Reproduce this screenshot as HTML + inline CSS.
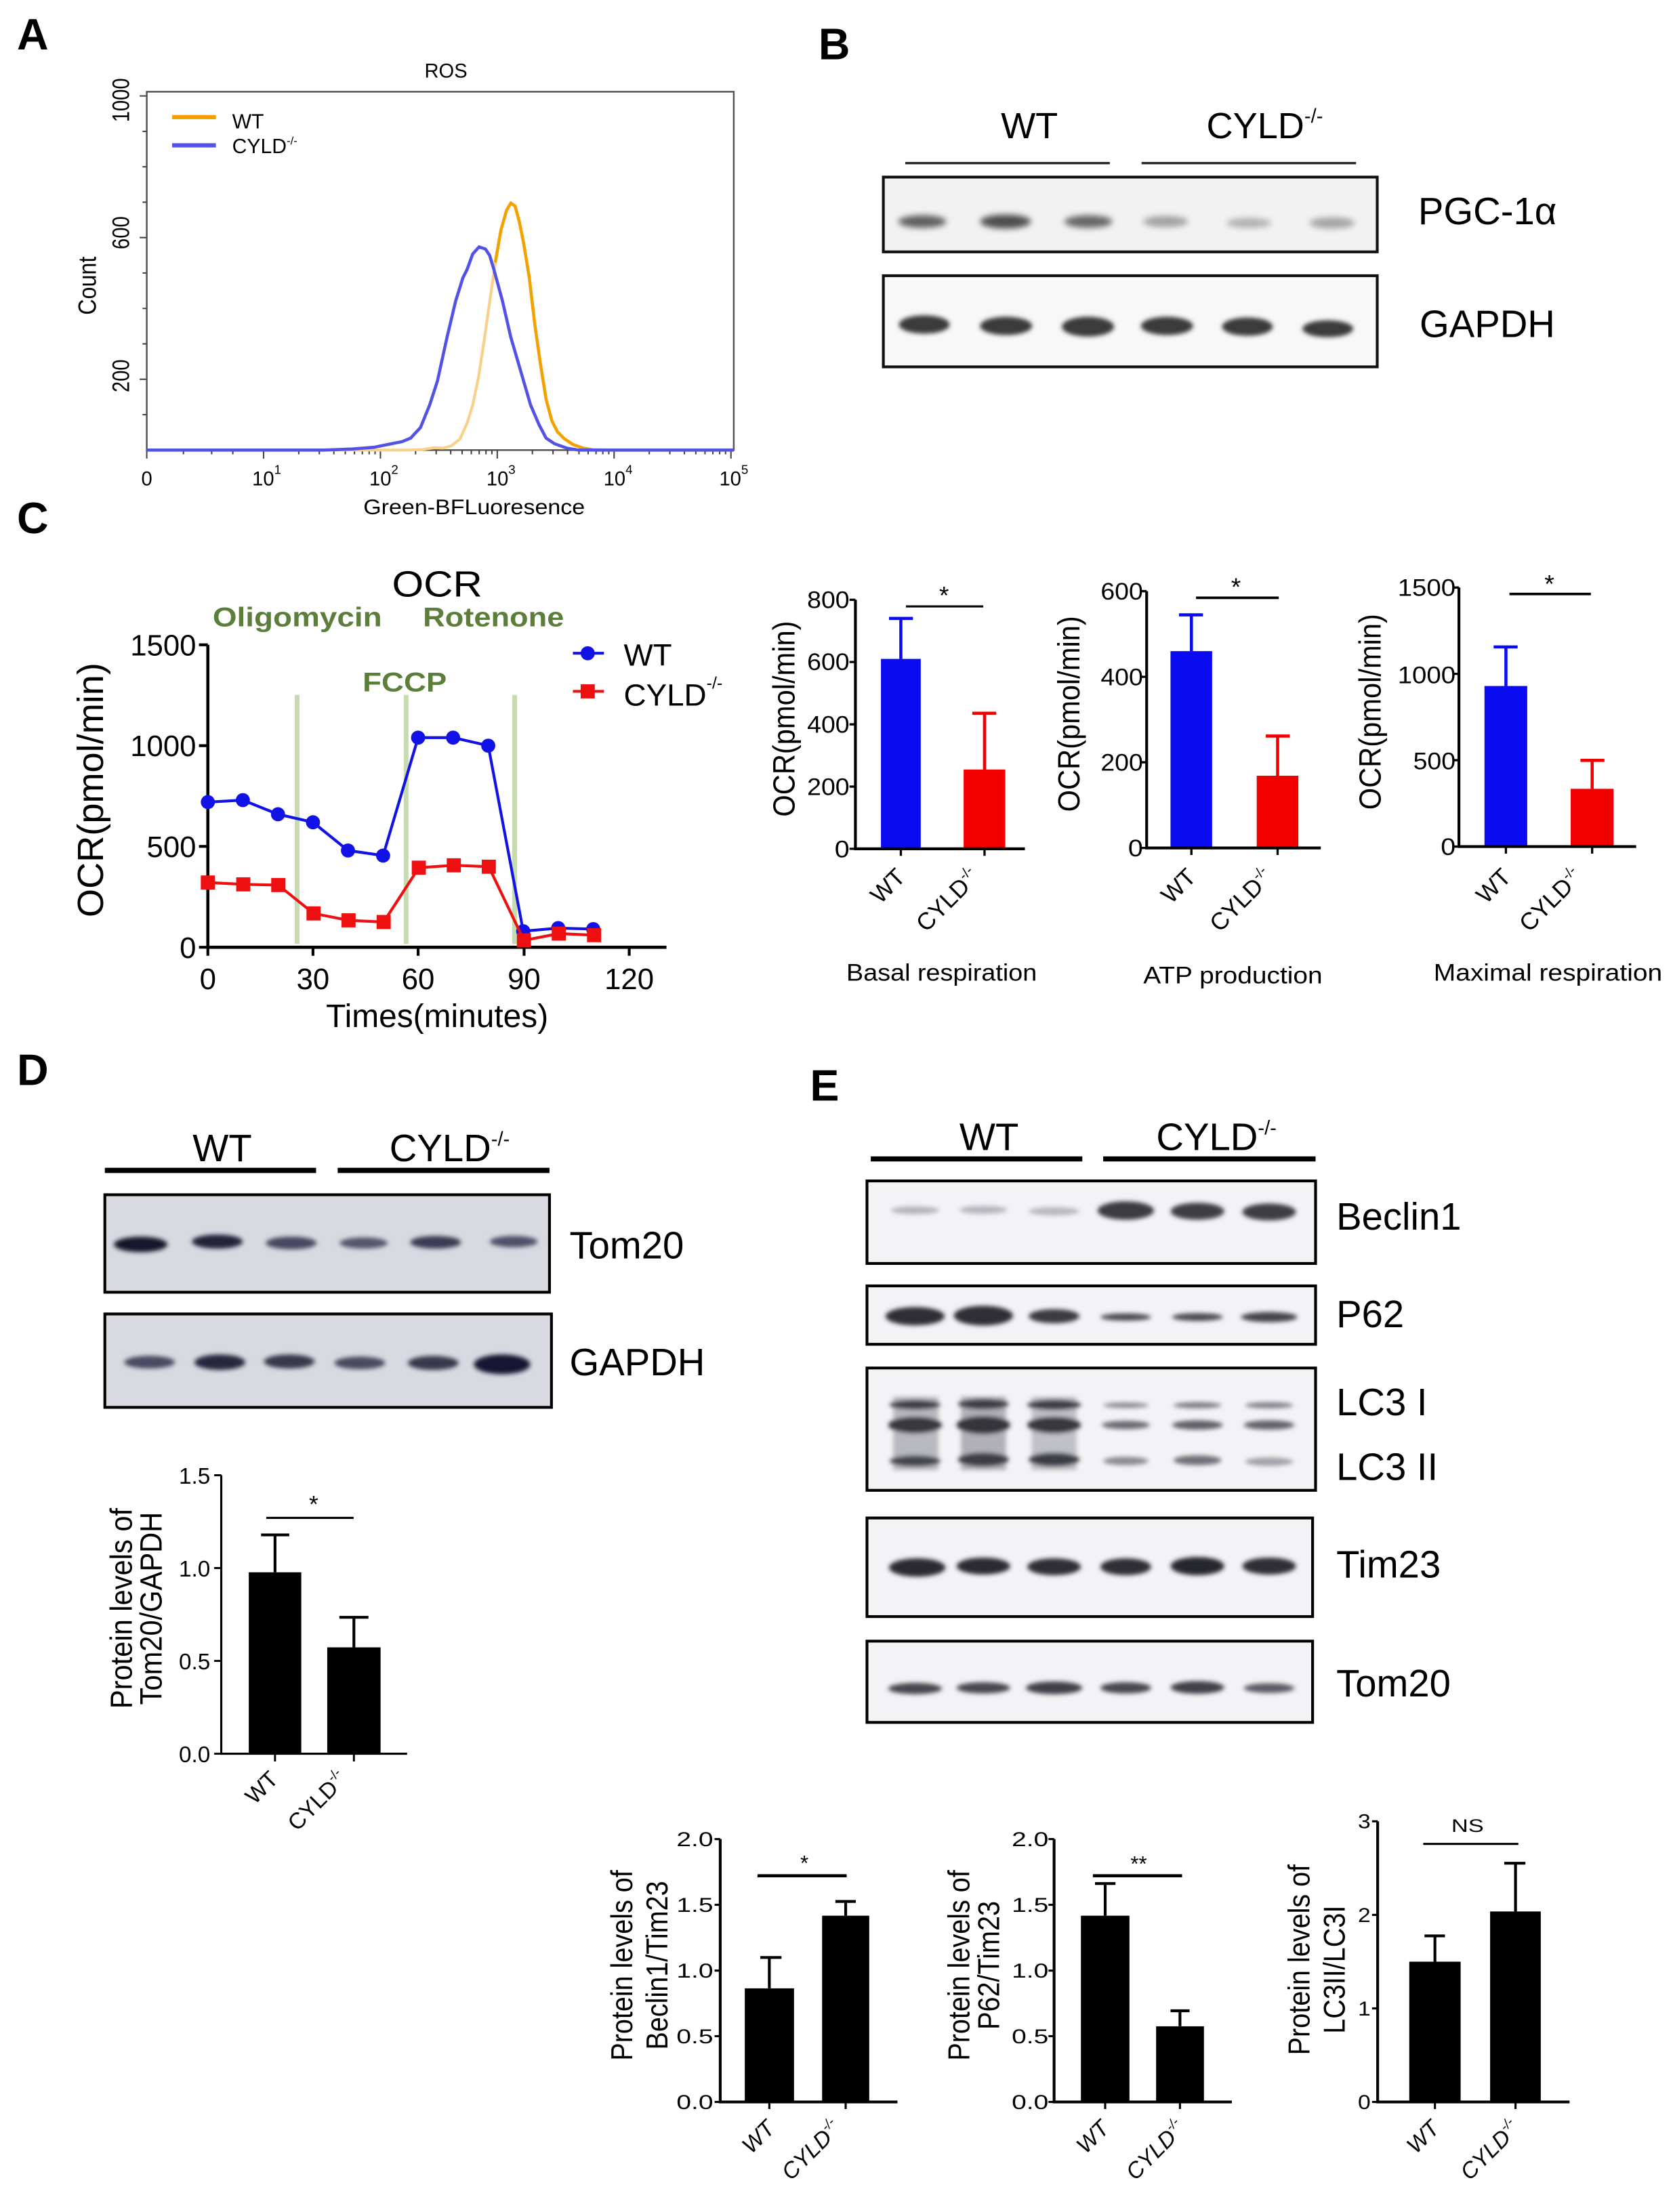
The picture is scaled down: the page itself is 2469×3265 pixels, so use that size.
<!DOCTYPE html>
<html><head><meta charset="utf-8">
<style>
html,body{margin:0;padding:0;background:#fff;}
svg{display:block;}
text{font-family:"Liberation Sans",Arial,sans-serif;}
</style></head><body>
<svg width="2469" height="3265" viewBox="0 0 1185.6 1567.8" xmlns="http://www.w3.org/2000/svg">
<defs>
<filter id="bl" x="-40%" y="-150%" width="180%" height="400%"><feGaussianBlur stdDeviation="2.2"/></filter>
<filter id="bl2" x="-40%" y="-150%" width="180%" height="400%"><feGaussianBlur stdDeviation="1.5"/></filter>
</defs>
<rect width="1185.6" height="1567.8" fill="#fff"/>

<!-- Panel letters -->
<g font-weight="bold" font-size="31">
<text x="12" y="35">A</text>
<text x="580" y="42">B</text>
<text x="12" y="378">C</text>
<text x="12" y="769">D</text>
<text x="574" y="780">E</text>
</g>

<!-- ================= Panel A ================= -->
<text x="316" y="55" font-size="14" text-anchor="middle">ROS</text>
<rect x="104" y="65" width="416" height="254" fill="none" stroke="#555" stroke-width="1.2"/>
<path d="M104 293.9h-3M104 268.8h-5M104 243.7h-3M104 218.6h-3M104 193.5h-3M104 168.4h-5M104 143.3h-3M104 118.2h-3M104 93.1h-3M104 68h-5" stroke="#444" stroke-width="1"/>
<g font-size="14" text-anchor="middle">
<text transform="translate(91.5,71) scale(1.2,1) rotate(-90)">1000</text>
<text transform="translate(91.5,165) scale(1.2,1) rotate(-90)">600</text>
<text transform="translate(91.5,266.4) scale(1.2,1) rotate(-90)">200</text>
<text transform="translate(68,202.5) scale(1.15,1) rotate(-90)" font-size="15.5">Count</text>
</g>
<path d="M104 319v6M186.8 319v6M269.6 319v6M352.4 319v6M435.2 319v6M518 319v6
M211.7 319v3M226.3 319v3M236.6 319v3M244.7 319v3M251.2 319v3M256.8 319v3M261.6 319v3M265.8 319v3
M294.5 319v3M309.1 319v3M319.4 319v3M327.5 319v3M334 319v3M339.6 319v3M344.4 319v3M348.6 319v3
M377.3 319v3M391.9 319v3M402.2 319v3M410.3 319v3M416.8 319v3M422.4 319v3M427.2 319v3M431.4 319v3
M460.1 319v3M474.7 319v3M485 319v3M493.1 319v3M499.6 319v3M505.2 319v3M510 319v3M514.2 319v3
M130 319v3M150 319v3M165 319v3" stroke="#444" stroke-width="1"/>
<g font-size="14" text-anchor="middle">
<text x="104" y="344">0</text>
<text x="189" y="344">10<tspan font-size="9" dy="-8">1</tspan></text>
<text x="272" y="344">10<tspan font-size="9" dy="-8">2</tspan></text>
<text x="355" y="344">10<tspan font-size="9" dy="-8">3</tspan></text>
<text x="438" y="344">10<tspan font-size="9" dy="-8">4</tspan></text>
<text x="520" y="344">10<tspan font-size="9" dy="-8">5</tspan></text>
</g>
<text x="336" y="364.5" font-size="15" text-anchor="middle" textLength="157" lengthAdjust="spacingAndGlyphs">Green-BFLuoresence</text>
<!-- legend -->
<line x1="122" y1="83" x2="153" y2="83" stroke="#f4a100" stroke-width="3"/>
<line x1="122" y1="103" x2="153" y2="103" stroke="#5252e6" stroke-width="3"/>
<text x="164.5" y="91" font-size="14.5">WT</text>
<text x="164.5" y="108.5" font-size="14.5">CYLD<tspan font-size="8" dy="-6">-/-</tspan></text>
<!-- curves -->
<polyline points="104,319 290,319 300,318.5 308,317.3 314,317.6 320,316 326,311 331,300 335,287 339,268 343,242 347,214 351,186" fill="none" stroke="#f8d08a" stroke-width="2"/>
<polyline points="351,186 355,163 359,149 362,144 365,146 368,157 371,172 375,196 379,230 383,258 387,283 391,298 395,306 400,311 406,315 413,317.5 420,318.8 430,319 520,319" fill="none" stroke="#f4a100" stroke-width="2.2"/>
<polyline points="104,319 230,319 250,318.2 265,317 275,315 285,313 291,310.5 298,303 304.5,287 310,270 316.8,239 323,213 328,197 331,191 335,180 339.5,175 344,176.5 347,181 350,191 356,213 362,239 369,263 376,287 382,301 387,310.5 393,314.5 402,317.7 410,319 520,319" fill="none" stroke="#5252e6" stroke-width="2.2"/>

<!-- ================= Panel B ================= -->
<text x="729.5" y="98" font-size="26" text-anchor="middle">WT</text>
<text x="855" y="98" font-size="26">CYLD<tspan font-size="14" dy="-11">-/-</tspan></text>
<rect x="641.5" y="114.8" width="145" height="1.6" fill="#222"/>
<rect x="809" y="114.8" width="152" height="1.6" fill="#222"/>
<rect x="626" y="125.5" width="350" height="53" fill="#f2f2f2" stroke="#111" stroke-width="2"/>
<rect x="626" y="195.4" width="350" height="64.6" fill="#f8f8f8" stroke="#111" stroke-width="2"/>
<g filter="url(#bl)">
<ellipse cx="653.6" cy="157" rx="17" ry="4.5" fill="#5e5e5e"/>
<ellipse cx="712.6" cy="157" rx="18" ry="5" fill="#4e4e4e"/>
<ellipse cx="771.3" cy="157" rx="17" ry="4.5" fill="#666"/>
<ellipse cx="826" cy="157" rx="16" ry="4" fill="#a2a2a2"/>
<ellipse cx="885" cy="158" rx="16" ry="3.5" fill="#b0b0b0"/>
<ellipse cx="944" cy="158" rx="16" ry="4" fill="#a4a4a4"/>
</g>
<g filter="url(#bl2)" fill="#3a3a3a">
<ellipse cx="655" cy="230" rx="18" ry="6.5"/>
<ellipse cx="713" cy="231" rx="18.5" ry="6.5"/>
<ellipse cx="771" cy="231.5" rx="18.5" ry="7"/>
<ellipse cx="827" cy="231" rx="18.5" ry="6.5"/>
<ellipse cx="884" cy="231.5" rx="18" ry="6.5"/>
<ellipse cx="941" cy="233" rx="18" ry="6"/>
</g>
<text x="1005" y="159" font-size="27">PGC-1α</text>
<text x="1006" y="239" font-size="27">GAPDH</text>

<!-- ================= Panel C line chart ================= -->
<text x="309.8" y="422.7" font-size="26" text-anchor="middle" textLength="64" lengthAdjust="spacingAndGlyphs">OCR</text>
<g font-weight="bold" font-size="19" style="fill:#5b7f3a">
<text x="150.7" y="444" style="fill:#5b7f3a" textLength="120" lengthAdjust="spacingAndGlyphs">Oligomycin</text>
<text x="299.7" y="444" style="fill:#5b7f3a" textLength="100" lengthAdjust="spacingAndGlyphs">Rotenone</text>
<text x="257" y="490" style="fill:#5b7f3a" textLength="59.6" lengthAdjust="spacingAndGlyphs">FCCP</text>
</g>
<g fill="#c6dbb2">
<rect x="208.9" y="492.5" width="3.4" height="176.5"/>
<rect x="286.1" y="492.5" width="3.4" height="176.5"/>
<rect x="363" y="492.5" width="3.4" height="176.5"/>
</g>
<path d="M147.3 457V671.4H472.3" stroke="#000" stroke-width="2.2" fill="none"/>
<path d="M141 457h6.3M141 528.5h6.3M141 599.9h6.3M141 671.4h6.3M147.3 671.4v6M221.8 671.4v6M296.3 671.4v6M371.4 671.4v6M445.9 671.4v6" stroke="#000" stroke-width="2"/>
<g font-size="21" text-anchor="end">
<text x="139" y="464.5">1500</text>
<text x="139" y="536">1000</text>
<text x="139" y="607.5">500</text>
<text x="139" y="679">0</text>
</g>
<g font-size="21" text-anchor="middle">
<text x="147.3" y="701">0</text>
<text x="221.8" y="701">30</text>
<text x="296.3" y="701">60</text>
<text x="371.4" y="701">90</text>
<text x="445.9" y="701">120</text>
</g>
<text x="309.8" y="728" font-size="23" text-anchor="middle">Times(minutes)</text>
<text transform="translate(73,559.9) rotate(-90)" font-size="26" text-anchor="middle">OCR(pmol/min)</text>
<!-- series -->
<polyline points="147.3,568.5 172.1,567.1 197,577.1 221.8,582.8 246.6,602.8 271.5,606.4 296.3,522.8 321.1,522.8 346,528.5 370.8,660 395.6,657.8 420.4,658.5" fill="none" stroke="#1212e6" stroke-width="2"/>
<g fill="#1212e6">
<circle cx="147.3" cy="568.5" r="5"/><circle cx="172.1" cy="567.1" r="5"/><circle cx="197" cy="577.1" r="5"/><circle cx="221.8" cy="582.8" r="5"/><circle cx="246.6" cy="602.8" r="5"/><circle cx="271.5" cy="606.4" r="5"/><circle cx="296.3" cy="522.8" r="5"/><circle cx="321.1" cy="522.8" r="5"/><circle cx="346" cy="528.5" r="5"/><circle cx="370.8" cy="660" r="5"/><circle cx="395.6" cy="657.8" r="5"/><circle cx="420.4" cy="658.5" r="5"/>
</g>
<polyline points="147.3,625.5 172.4,626.8 197.2,627.3 222.2,647.4 247,652.3 271.9,653.5 296.8,615 321.6,613.3 346.4,614.3 371.3,666.5 396,661.7 421,662.8" fill="none" stroke="#ee1010" stroke-width="2"/>
<g fill="#ee1010">
<rect x="142.3" y="620.5" width="10" height="10"/><rect x="167.4" y="621.8" width="10" height="10"/><rect x="192.2" y="622.3" width="10" height="10"/><rect x="217.2" y="642.4" width="10" height="10"/><rect x="242" y="647.3" width="10" height="10"/><rect x="266.9" y="648.5" width="10" height="10"/><rect x="291.8" y="610" width="10" height="10"/><rect x="316.6" y="608.3" width="10" height="10"/><rect x="341.4" y="609.3" width="10" height="10"/><rect x="366.3" y="661.5" width="10" height="10"/><rect x="391" y="656.7" width="10" height="10"/><rect x="416" y="657.8" width="10" height="10"/>
</g>
<!-- legend -->
<line x1="406" y1="463" x2="428" y2="463" stroke="#1212e6" stroke-width="2"/>
<circle cx="416.5" cy="463" r="5" fill="#1212e6"/>
<line x1="406" y1="490" x2="428" y2="490" stroke="#ee1010" stroke-width="2"/>
<rect x="411.5" y="485" width="10" height="10" fill="#ee1010"/>
<text x="442" y="471.7" font-size="22">WT</text>
<text x="442" y="500" font-size="22">CYLD<tspan font-size="12" dy="-12">-/-</tspan></text>

<!-- ================= Panel C bar charts ================= -->
<!-- chart 1 -->
<rect x="624.3" y="467" width="28.2" height="134.6" fill="#0b0bf2"/>
<rect x="682.9" y="545.4" width="29.5" height="56.2" fill="#f20000"/>
<path d="M638.4 467V438.3M630 438.3h17" stroke="#0b0bf2" stroke-width="2.2"/>
<path d="M697.7 545.4V505.5M689 505.5h17" stroke="#f20000" stroke-width="2.2"/>
<path d="M606.2 425.1V601.6H726.3" stroke="#000" stroke-width="2" fill="none"/>
<path d="M602 425.1h4.2M602 469.2h4.2M602 513.4h4.2M602 557.5h4.2M602 601.6h4.2M638.4 601.6v5M697.7 601.6v5" stroke="#000" stroke-width="1.6"/>
<line x1="642" y1="429.8" x2="696.8" y2="429.8" stroke="#000" stroke-width="1.5"/>
<text x="669" y="428" font-size="18" text-anchor="middle">*</text>
<g font-size="17" text-anchor="end">
<text x="602" y="431" textLength="30" lengthAdjust="spacingAndGlyphs">800</text>
<text x="602" y="475" textLength="30" lengthAdjust="spacingAndGlyphs">600</text>
<text x="602" y="519.4" textLength="30" lengthAdjust="spacingAndGlyphs">400</text>
<text x="602" y="563.5" textLength="30" lengthAdjust="spacingAndGlyphs">200</text>
<text x="602" y="607.6" textLength="10.5" lengthAdjust="spacingAndGlyphs">0</text>
</g>
<text transform="translate(563,509.5) scale(1.1,1) rotate(-90)" font-size="20" text-anchor="middle">OCR(pmol/min)</text>
<g font-size="17" text-anchor="end">
<text transform="translate(642.5,622.6) rotate(-45)">WT</text>
<text transform="translate(695,622.6) rotate(-45)">CYLD<tspan font-size="10" dy="-7">-/-</tspan></text>
</g>
<text x="667.3" y="695" font-size="17" text-anchor="middle" textLength="135" lengthAdjust="spacingAndGlyphs">Basal respiration</text>

<!-- chart 2 -->
<rect x="829.5" y="461.5" width="29.5" height="139.5" fill="#0b0bf2"/>
<rect x="890.6" y="549.8" width="29.5" height="51.2" fill="#f20000"/>
<path d="M844.3 461.5V435.8M835.5 435.8h17" stroke="#0b0bf2" stroke-width="2.2"/>
<path d="M905.4 549.8V521.7M897 521.7h17" stroke="#f20000" stroke-width="2.2"/>
<path d="M812.6 419V601H936" stroke="#000" stroke-width="2" fill="none"/>
<path d="M808.4 419h4.2M808.4 479.7h4.2M808.4 540.3h4.2M808.4 601h4.2M844.3 601v5M905.4 601v5" stroke="#000" stroke-width="1.6"/>
<line x1="847.6" y1="423.7" x2="906.2" y2="423.7" stroke="#000" stroke-width="1.8"/>
<text x="875.9" y="422" font-size="18" text-anchor="middle">*</text>
<g font-size="17" text-anchor="end">
<text x="810" y="425" textLength="30" lengthAdjust="spacingAndGlyphs">600</text>
<text x="810" y="485.7" textLength="30" lengthAdjust="spacingAndGlyphs">400</text>
<text x="810" y="546.3" textLength="30" lengthAdjust="spacingAndGlyphs">200</text>
<text x="810" y="607" textLength="10.5" lengthAdjust="spacingAndGlyphs">0</text>
</g>
<text transform="translate(765,506) scale(1.1,1) rotate(-90)" font-size="20" text-anchor="middle">OCR(pmol/min)</text>
<g font-size="17" text-anchor="end">
<text transform="translate(848.5,622.6) rotate(-45)">WT</text>
<text transform="translate(903,622.6) rotate(-45)">CYLD<tspan font-size="10" dy="-7">-/-</tspan></text>
</g>
<text x="873.7" y="697" font-size="17" text-anchor="middle" textLength="127" lengthAdjust="spacingAndGlyphs">ATP production</text>

<!-- chart 3 -->
<rect x="1052" y="486.2" width="30.3" height="113.8" fill="#0b0bf2"/>
<rect x="1113.1" y="559.1" width="30.4" height="40.9" fill="#f20000"/>
<path d="M1067.2 486.2V458.5M1058.5 458.5h17" stroke="#0b0bf2" stroke-width="2.2"/>
<path d="M1128.3 559.1V538.9M1120 538.9h17" stroke="#f20000" stroke-width="2.2"/>
<path d="M1033.9 416.4V600H1159.5" stroke="#000" stroke-width="2" fill="none"/>
<path d="M1029.7 416.4h4.2M1029.7 477.6h4.2M1029.7 538.8h4.2M1029.7 600h4.2M1067.2 600v5M1128.3 600v5" stroke="#000" stroke-width="1.6"/>
<line x1="1069.7" y1="421" x2="1127.4" y2="421" stroke="#000" stroke-width="1.8"/>
<text x="1098" y="420" font-size="18" text-anchor="middle">*</text>
<g font-size="17" text-anchor="end">
<text x="1031.5" y="422.4" textLength="41" lengthAdjust="spacingAndGlyphs">1500</text>
<text x="1031.5" y="484.3" textLength="41" lengthAdjust="spacingAndGlyphs">1000</text>
<text x="1031.5" y="545.3" textLength="30" lengthAdjust="spacingAndGlyphs">500</text>
<text x="1031.5" y="606" textLength="10.5" lengthAdjust="spacingAndGlyphs">0</text>
</g>
<text transform="translate(978.5,504.5) scale(1.1,1) rotate(-90)" font-size="20" text-anchor="middle">OCR(pmol/min)</text>
<g font-size="17" text-anchor="end">
<text transform="translate(1071.8,622.6) rotate(-45)">WT</text>
<text transform="translate(1122.4,622.6) rotate(-45)">CYLD<tspan font-size="10" dy="-7">-/-</tspan></text>
</g>
<text x="1097" y="695" font-size="17" text-anchor="middle" textLength="162" lengthAdjust="spacingAndGlyphs">Maximal respiration</text>

<!-- ================= Panel D ================= -->
<text x="157.5" y="823" font-size="27" text-anchor="middle">WT</text>
<text x="276" y="823" font-size="27">CYLD<tspan font-size="14" dy="-11">-/-</tspan></text>
<rect x="74.3" y="827.7" width="149.7" height="3.7" fill="#000"/>
<rect x="239.3" y="827.7" width="150.1" height="3.7" fill="#000"/>
<rect x="74.3" y="846.8" width="315.1" height="69.1" fill="#d9d9e1" stroke="#000" stroke-width="2"/>
<rect x="74.3" y="931.3" width="316.5" height="66.2" fill="#d9d9e1" stroke="#000" stroke-width="2"/>
<g filter="url(#bl2)">
<ellipse cx="99.7" cy="882" rx="19" ry="5.5" fill="#15152a"/>
<ellipse cx="154" cy="880" rx="18" ry="5" fill="#22223a"/>
<ellipse cx="206.4" cy="881" rx="18" ry="4.5" fill="#474760"/>
<ellipse cx="257.7" cy="881" rx="17" ry="4" fill="#55556c"/>
<ellipse cx="308.7" cy="880.5" rx="18" ry="4.5" fill="#3a3a52"/>
<ellipse cx="364" cy="880" rx="17" ry="4" fill="#50506a"/>
<ellipse cx="106" cy="965.5" rx="18" ry="4.5" fill="#4a4a60"/>
<ellipse cx="155.8" cy="965.5" rx="18" ry="5.5" fill="#28283e"/>
<ellipse cx="205" cy="965" rx="18" ry="5" fill="#38384e"/>
<ellipse cx="255" cy="966" rx="18" ry="4.5" fill="#4a4a60"/>
<ellipse cx="307" cy="966" rx="18" ry="5" fill="#38384e"/>
<ellipse cx="355.8" cy="967" rx="20" ry="7" fill="#181830"/>
</g>
<text x="403.6" y="892" font-size="27">Tom20</text>
<text x="403.6" y="974.7" font-size="27">GAPDH</text>
<!-- D bar chart -->
<rect x="176.3" y="1114.4" width="37.2" height="128.6" fill="#000"/>
<rect x="231.9" y="1167.6" width="37.8" height="75.4" fill="#000"/>
<path d="M194.9 1114.4V1087.9M185 1087.9h20M250.8 1167.6V1146.3M240.5 1146.3h20.6" stroke="#000" stroke-width="2"/>
<path d="M156.8 1045.6V1243H288.5" stroke="#000" stroke-width="1.5" fill="none"/>
<path d="M151.8 1045.6h5M151.8 1111.4h5M151.8 1177.2h5M151.8 1243h5M194.9 1243v5.5M250.8 1243v5.5" stroke="#000" stroke-width="1.4"/>
<line x1="188.7" y1="1075.8" x2="250.6" y2="1075.8" stroke="#000" stroke-width="1.5"/>
<text x="222.3" y="1072" font-size="17" text-anchor="middle">*</text>
<g font-size="16" text-anchor="end">
<text x="149" y="1051.6">1.5</text>
<text x="149" y="1117.4">1.0</text>
<text x="149" y="1183.2">0.5</text>
<text x="149" y="1249">0.0</text>
</g>
<text transform="translate(93.5,1140) scale(1.1,1) rotate(-90)" font-size="20" text-anchor="middle">Protein levels of</text>
<text transform="translate(114.5,1140) scale(1.1,1) rotate(-90)" font-size="20" text-anchor="middle">Tom20/GAPDH</text>
<g font-size="16" text-anchor="end">
<text transform="translate(198,1262) rotate(-45)">WT</text>
<text transform="translate(247,1262) rotate(-45)">CYLD<tspan font-size="9.5" dy="-7">-/-</tspan></text>
</g>

<!-- ================= Panel E ================= -->
<text x="700.9" y="815" font-size="27" text-anchor="middle">WT</text>
<text x="819.4" y="815" font-size="27">CYLD<tspan font-size="14" dy="-11">-/-</tspan></text>
<rect x="617.1" y="819.6" width="149.9" height="3.6" fill="#000"/>
<rect x="781.8" y="819.6" width="150.5" height="3.6" fill="#000"/>
<g fill="#f3f3f5" stroke="#000" stroke-width="2">
<rect x="614.4" y="837" width="317.9" height="58.5"/>
<rect x="614.4" y="911.4" width="317.9" height="41.4"/>
<rect x="614.4" y="969.6" width="317.9" height="86.7"/>
<rect x="614.4" y="1075.9" width="315.8" height="69.9"/>
<rect x="614.4" y="1163.2" width="315.8" height="57.6"/>
</g>
<g filter="url(#bl2)">
<!-- Beclin1 -->
<ellipse cx="648.5" cy="857.8" rx="17" ry="2.8" fill="#b4b4bc"/>
<ellipse cx="696.9" cy="857.5" rx="17" ry="2.8" fill="#b4b4bc"/>
<ellipse cx="747" cy="858.5" rx="18" ry="3" fill="#b8b8c0"/>
<ellipse cx="797.8" cy="858" rx="20" ry="6.5" fill="#3a3a40"/>
<ellipse cx="848.6" cy="858.5" rx="19" ry="6" fill="#3c3c42"/>
<ellipse cx="899.4" cy="859" rx="19" ry="6" fill="#3c3c42"/>
<!-- P62 -->
<ellipse cx="648.5" cy="932.9" rx="21" ry="6.5" fill="#2e2e34"/>
<ellipse cx="696.9" cy="932.5" rx="21" ry="7" fill="#2e2e34"/>
<ellipse cx="747" cy="932.9" rx="18" ry="5" fill="#3a3a40"/>
<ellipse cx="797.8" cy="933.5" rx="18" ry="2.6" fill="#4a4a50"/>
<ellipse cx="848.6" cy="933.5" rx="18" ry="2.8" fill="#4a4a50"/>
<ellipse cx="899.4" cy="933.5" rx="20" ry="3.6" fill="#44444a"/>
<!-- LC3 -->
<rect x="633" y="990" width="32" height="52" fill="#b8b8c0"/>
<rect x="681" y="990" width="32" height="52" fill="#b0b0b8"/>
<rect x="731" y="990" width="32" height="52" fill="#c0c0c8"/>
<ellipse cx="648.5" cy="995.7" rx="18" ry="3.5" fill="#3e3e44"/>
<ellipse cx="696.9" cy="995.2" rx="18" ry="3.8" fill="#3e3e44"/>
<ellipse cx="747" cy="995.7" rx="19" ry="3.8" fill="#3e3e44"/>
<ellipse cx="648.5" cy="1010" rx="19" ry="6" fill="#38383e"/>
<ellipse cx="696.9" cy="1010" rx="19" ry="6.5" fill="#34343a"/>
<ellipse cx="747" cy="1010" rx="19" ry="6" fill="#38383e"/>
<ellipse cx="648.5" cy="1035.5" rx="18" ry="4" fill="#45454d"/>
<ellipse cx="696.9" cy="1034.5" rx="18" ry="5" fill="#3c3c44"/>
<ellipse cx="747" cy="1034.5" rx="18" ry="5" fill="#3e3e46"/>
<ellipse cx="797.8" cy="996" rx="16" ry="2" fill="#8c8c94"/>
<ellipse cx="848.6" cy="996" rx="17" ry="2.2" fill="#7c7c84"/>
<ellipse cx="899.4" cy="996" rx="17" ry="2.2" fill="#80808a"/>
<ellipse cx="797.8" cy="1010" rx="17" ry="3" fill="#6a6a72"/>
<ellipse cx="848.6" cy="1010" rx="18" ry="3.3" fill="#5e5e66"/>
<ellipse cx="899.4" cy="1010" rx="18" ry="3.3" fill="#62626a"/>
<ellipse cx="797.8" cy="1035.5" rx="16" ry="3" fill="#8a8a92"/>
<ellipse cx="848.6" cy="1035" rx="17" ry="3.5" fill="#707078"/>
<ellipse cx="899.4" cy="1036" rx="17" ry="3" fill="#a0a0a8"/>
<!-- Tim23 -->
<ellipse cx="650" cy="1111" rx="20" ry="6.5" fill="#2c2c32"/>
<ellipse cx="696.9" cy="1110" rx="19" ry="6" fill="#2c2c32"/>
<ellipse cx="747" cy="1110.5" rx="19" ry="6" fill="#2e2e34"/>
<ellipse cx="797.8" cy="1110.5" rx="18" ry="6" fill="#2e2e34"/>
<ellipse cx="848.6" cy="1110" rx="19" ry="6.5" fill="#28282e"/>
<ellipse cx="899.4" cy="1110" rx="19" ry="6" fill="#2e2e34"/>
<!-- Tom20 -->
<ellipse cx="648.5" cy="1196.8" rx="19" ry="4" fill="#46464f"/>
<ellipse cx="696.9" cy="1196.3" rx="19" ry="4" fill="#46464f"/>
<ellipse cx="747" cy="1196.3" rx="20" ry="4.5" fill="#404049"/>
<ellipse cx="797.8" cy="1196.3" rx="18" ry="4" fill="#46464f"/>
<ellipse cx="848.6" cy="1196" rx="19" ry="4.5" fill="#404049"/>
<ellipse cx="899.4" cy="1196.5" rx="18" ry="3.5" fill="#5c5c66"/>
</g>
<g font-size="27">
<text x="947" y="871.6">Beclin1</text>
<text x="947" y="940.6">P62</text>
<text x="947" y="1003">LC3 I</text>
<text x="947" y="1049">LC3 II</text>
<text x="947" y="1118">Tim23</text>
<text x="947" y="1202.4">Tom20</text>
</g>

<!-- ================= Panel E bar charts ================= -->
<!-- E1 -->
<rect x="527.8" y="1409.3" width="34.9" height="80.5" fill="#000"/>
<rect x="582.6" y="1357.8" width="33.4" height="132" fill="#000"/>
<path d="M545.2 1409.3V1387.4M538.8 1387.4h15M599.3 1357.8V1347.7M592 1347.7h14.5" stroke="#000" stroke-width="2"/>
<path d="M510.4 1303.5V1489.8H636" stroke="#000" stroke-width="2" fill="none"/>
<path d="M506.4 1303.5h4M506.4 1350.1h4M506.4 1396.7h4M506.4 1443.2h4M506.4 1489.8h4M545.2 1489.8v5M599.3 1489.8v5" stroke="#000" stroke-width="1.5"/>
<line x1="536.8" y1="1329.5" x2="600" y2="1329.5" stroke="#000" stroke-width="2.2"/>
<text x="570" y="1325.5" font-size="15" text-anchor="middle">*</text>
<g font-size="14" text-anchor="end">
<text x="505.4" y="1308.5" textLength="26" lengthAdjust="spacingAndGlyphs">2.0</text>
<text x="505.4" y="1355.1" textLength="26" lengthAdjust="spacingAndGlyphs">1.5</text>
<text x="505.4" y="1401.7" textLength="26" lengthAdjust="spacingAndGlyphs">1.0</text>
<text x="505.4" y="1448.2" textLength="26" lengthAdjust="spacingAndGlyphs">0.5</text>
<text x="505.4" y="1494.8" textLength="26" lengthAdjust="spacingAndGlyphs">0.0</text>
</g>
<text transform="translate(448,1393) scale(1.12,1) rotate(-90)" font-size="19" text-anchor="middle">Protein levels of</text>
<text transform="translate(473,1393) scale(1.12,1) rotate(-90)" font-size="19" text-anchor="middle">Beclin1/Tim23</text>
<g font-size="16" font-style="italic" text-anchor="end">
<text transform="translate(550,1509.6) rotate(-45)">WT</text>
<text transform="translate(597,1509.6) rotate(-45)">CYLD<tspan font-size="9.5" dy="-7">-/-</tspan></text>
</g>

<!-- E2 -->
<rect x="766" y="1357.8" width="34.4" height="132" fill="#000"/>
<rect x="819.3" y="1436.2" width="33.9" height="53.6" fill="#000"/>
<path d="M783.2 1357.8V1335M776 1335h14.5M836.2 1436.2V1425.2M829.5 1425.2h13.5" stroke="#000" stroke-width="2"/>
<path d="M747 1303.5V1489.8H873" stroke="#000" stroke-width="2" fill="none"/>
<path d="M743 1303.5h4M743 1350.1h4M743 1396.7h4M743 1443.2h4M743 1489.8h4M783.2 1489.8v5M836.2 1489.8v5" stroke="#000" stroke-width="1.5"/>
<line x1="774.5" y1="1329.5" x2="837.7" y2="1329.5" stroke="#000" stroke-width="2.2"/>
<text x="807" y="1326" font-size="15" text-anchor="middle">**</text>
<g font-size="14" text-anchor="end">
<text x="743" y="1308.5" textLength="26" lengthAdjust="spacingAndGlyphs">2.0</text>
<text x="743" y="1355.1" textLength="26" lengthAdjust="spacingAndGlyphs">1.5</text>
<text x="743" y="1401.7" textLength="26" lengthAdjust="spacingAndGlyphs">1.0</text>
<text x="743" y="1448.2" textLength="26" lengthAdjust="spacingAndGlyphs">0.5</text>
<text x="743" y="1494.8" textLength="26" lengthAdjust="spacingAndGlyphs">0.0</text>
</g>
<text transform="translate(687,1393) scale(1.12,1) rotate(-90)" font-size="19" text-anchor="middle">Protein levels of</text>
<text transform="translate(708,1393) scale(1.12,1) rotate(-90)" font-size="19" text-anchor="middle">P62/Tim23</text>
<g font-size="16" font-style="italic" text-anchor="end">
<text transform="translate(787,1509.6) rotate(-45)">WT</text>
<text transform="translate(841,1509.6) rotate(-45)">CYLD<tspan font-size="9.5" dy="-7">-/-</tspan></text>
</g>

<!-- E3 -->
<rect x="998.7" y="1390.4" width="36.4" height="99.4" fill="#000"/>
<rect x="1056" y="1354.8" width="35.9" height="135" fill="#000"/>
<path d="M1016.9 1390.4V1372.1M1009.5 1372.1h14.5M1074 1354.8V1320.6M1066 1320.6h15" stroke="#000" stroke-width="2"/>
<path d="M976.3 1290.9V1489.8H1112.3" stroke="#000" stroke-width="2" fill="none"/>
<path d="M972.3 1290.9h4M972.3 1357.2h4M972.3 1423.5h4M972.3 1489.8h4M1016.9 1489.8v5M1074 1489.8v5" stroke="#000" stroke-width="1.5"/>
<line x1="1008.6" y1="1306.9" x2="1076" y2="1306.9" stroke="#000" stroke-width="1.5"/>
<text x="1040" y="1298.5" font-size="13" text-anchor="middle" textLength="23" lengthAdjust="spacingAndGlyphs">NS</text>
<g font-size="14" text-anchor="end">
<text x="971.3" y="1295.9" textLength="9" lengthAdjust="spacingAndGlyphs">3</text>
<text x="971.3" y="1362.2" textLength="9" lengthAdjust="spacingAndGlyphs">2</text>
<text x="971.3" y="1428.5" textLength="9" lengthAdjust="spacingAndGlyphs">1</text>
<text x="971.3" y="1494.8" textLength="9" lengthAdjust="spacingAndGlyphs">0</text>
</g>
<text transform="translate(928,1389) scale(1.12,1) rotate(-90)" font-size="19" text-anchor="middle">Protein levels of</text>
<text transform="translate(953,1396) scale(1.12,1) rotate(-90)" font-size="19" text-anchor="middle">LC3II/LC3I</text>
<g font-size="16" font-style="italic" text-anchor="end">
<text transform="translate(1021,1509.6) rotate(-45)">WT</text>
<text transform="translate(1078,1509.6) rotate(-45)">CYLD<tspan font-size="9.5" dy="-7">-/-</tspan></text>
</g>
</svg>
</body></html>
